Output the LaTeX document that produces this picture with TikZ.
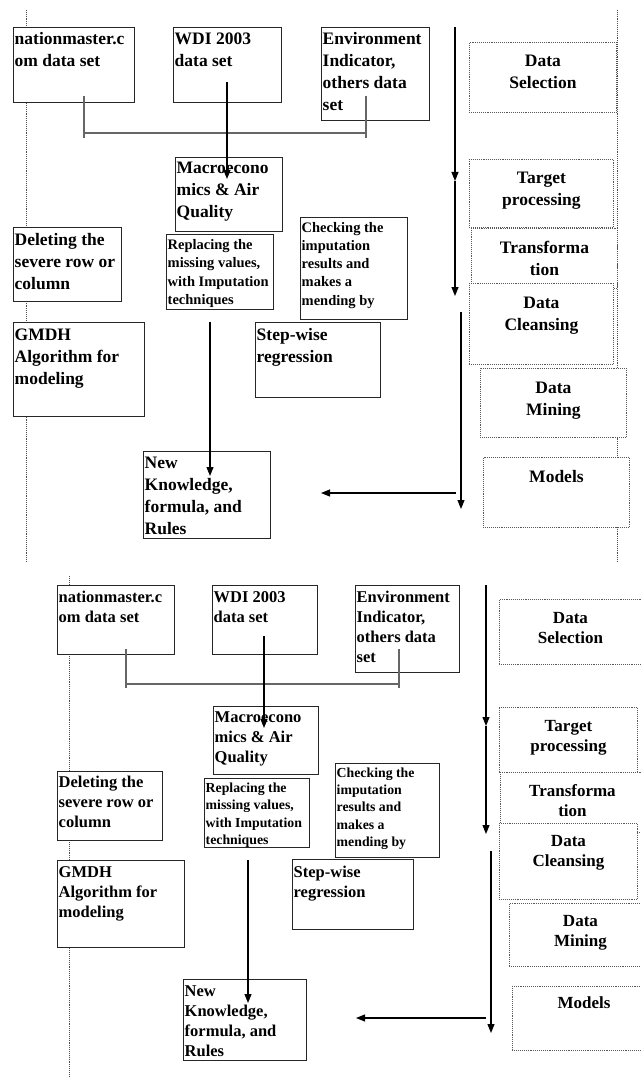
\documentclass[tikz,border=0pt]{standalone}
\usepackage{fontspec}
\setmainfont{Liberation Serif}
\usetikzlibrary{arrows.meta}
\tikzset{
  lbox/.style={draw=black!85, line width=1.3pt, fill=white, anchor=north west, inner sep=0pt},
  rbox/.style={draw=black!65, densely dotted, line width=0.9pt, fill=white, anchor=north west, inner sep=0pt},
  ltxt/.style={anchor=base west, inner sep=0pt, xshift=1.5pt, yshift=-18pt, font=\bfseries\fontsize{17.5}{22}\selectfont},
  stxt/.style={anchor=base west, inner sep=0pt, xshift=1.5pt, yshift=-15.5pt, font=\bfseries\fontsize{14.5}{18.3}\selectfont},
  ltxtb/.style={anchor=base west, inner sep=0pt, xshift=1.5pt, yshift=-17pt, font=\bfseries\fontsize{16.5}{20}\selectfont},
  stxtb/.style={anchor=base west, inner sep=0pt, xshift=1.5pt, yshift=-14.5pt, font=\bfseries\fontsize{13.8}{17.4}\selectfont},
  rtxt/.style={anchor=base, inner sep=0pt, yshift=-25pt, font=\bfseries\fontsize{17.5}{22}\selectfont},
  rtxtb/.style={anchor=base, inner sep=0pt, yshift=-24pt, font=\bfseries\fontsize{17}{20.5}\selectfont},
  pageline/.style={draw=black!70, densely dotted, line width=0.9pt},
  conn/.style={draw=black, line width=1.1pt, -{Triangle[length=9pt,width=7pt]}},
  brk/.style={draw=black!60, line width=1.2pt},
}
\newcommand\lbx[7]{%
  \node[lbox, minimum width=#4pt, minimum height=#5pt] (#1) at (#2,#3) {};
  \node[#6] (#1t) at (#1.north west) {\parbox[t]{300pt}{#7}};
}
\newcommand\rbx[7]{%
  \node[rbox, minimum width=#4pt, minimum height=#5pt] (#1) at (#2,#3) {};
  \node[#6] (#1t) at (#1.north) {\parbox[t]{#4pt}{\centering #7}};
}
\begin{document}
\begin{tikzpicture}[x=1pt,y=-1pt]
\fill[white] (0,0) rectangle (640,1078);
\useasboundingbox (0,0) rectangle (640,1078);

% ---------- page lines ----------
\coordinate (pl1a) at (26,10);  \coordinate (pl1b) at (26,562);
\coordinate (pr1a) at (617,10); \coordinate (pr1b) at (617,562);
\coordinate (pl2a) at (69,576); \coordinate (pl2b) at (69,1078);
\draw[pageline] (pl1a) -- (pl1b);
\draw[pageline] (pr1a) -- (pr1b);
\draw[pageline] (pl2a) -- (pl2b);

% ================= TOP COPY =================
\lbx{nm}{13}{27}{121}{75}{ltxt}{nationmaster.c\\om data\ set}
\lbx{wdi}{173}{27}{108}{75}{ltxt}{WDI 2003\\data set}
\lbx{env}{321}{27}{108}{93}{ltxt}{Environment\\Indicator,\\others data\\set}
\lbx{mac}{175}{157}{107}{74}{ltxt, yshift=1pt}{Macroecono\\mics \& Air\\Quality}
\lbx{del}{13}{227}{108}{74}{ltxt}{Deleting the\\severe row or\\column}
\lbx{rep}{166}{234}{107}{75}{stxt}{Replacing the\\missing values,\\with Imputation\\techniques}
\lbx{chk}{300}{217}{107}{102}{stxt, yshift=0.5pt}{Checking the\\imputation\\results and\\makes a\\mending by}
\lbx{stp}{255}{322}{125}{75}{ltxt}{Step-wise\\regression}
\lbx{gm}{13}{322}{131}{94}{ltxt}{GMDH\\Algorithm for\\modeling}
\lbx{new}{143}{451}{127}{87}{ltxt, yshift=1pt}{New\\Knowledge,\\formula, and\\Rules}

\rbx{sel}{469}{42}{147}{70}{rtxt}{Data\\Selection}
\rbx{tgt}{469}{159}{144}{68}{rtxt, yshift=1pt}{Target\\processing}
\rbx{trn}{471}{228}{146}{60}{rtxt}{Transforma\\tion}
\rbx{cln}{469}{283}{144}{81}{rtxt}{Data\\Cleansing}
\rbx{min}{480}{368}{146}{69}{rtxt}{Data\\Mining}
\rbx{mod}{483}{457}{146}{70}{rtxt}{Models}

% connectors top
\coordinate (b1a) at (84,96);  \coordinate (b1b) at (84,138);
\coordinate (b1c) at (84,133); \coordinate (b1d) at (366,133);
\coordinate (b1e) at (366,96); \coordinate (b1f) at (366,138);
\draw[brk] (b1a) -- (b1b);
\draw[brk] (b1c) -- (b1d);
\draw[brk] (b1e) -- (b1f);
\coordinate (w1a) at (227,82);  \coordinate (w1b) at (227,179);
\draw[conn] (w1a) -- (w1b);
\coordinate (v1a) at (455,27); \coordinate (v1b) at (455,181); \coordinate (v1c) at (455,296);
\draw[conn] (v1a) -- (v1b);
\draw[conn] (v1b) -- (v1c);
\coordinate (v2a) at (461,312); \coordinate (v2b) at (461,509);
\draw[conn] (v2a) -- (v2b);
\coordinate (h1a) at (456,493); \coordinate (h1b) at (321,493);
\draw[conn] (h1a) -- (h1b);
\coordinate (r1a) at (210,322); \coordinate (r1b) at (210,476);
\draw[conn] (r1a) -- (r1b);

% ================= BOTTOM COPY =================
\lbx{nmB}{57}{585}{117}{69}{ltxtb}{nationmaster.c\\om data\ set}
\lbx{wdiB}{212}{585}{105}{69}{ltxtb}{WDI 2003\\data set}
\lbx{envB}{355}{585}{104}{87}{ltxtb}{Environment\\Indicator,\\others data\\set}
\lbx{macB}{213}{706}{105}{68}{ltxtb, yshift=1pt}{Macroecono\\mics \& Air\\Quality}
\lbx{delB}{57}{771}{105}{69}{ltxtb, yshift=1pt}{Deleting the\\severe row or\\column}
\lbx{repB}{204}{778}{105}{69}{stxtb}{Replacing the\\missing values,\\with Imputation\\techniques}
\lbx{chkB}{335}{763}{104}{94}{stxtb, yshift=0.5pt}{Checking the\\imputation\\results and\\makes a\\mending by}
\lbx{stpB}{292}{859}{121}{70}{ltxtb, yshift=-1pt}{Step-wise\\regression}
\lbx{gmB}{57}{860}{127}{87}{ltxtb}{GMDH\\Algorithm for\\modeling}
\lbx{newB}{183}{979}{123}{81}{ltxtb}{New\\Knowledge,\\formula, and\\Rules}

\rbx{selB}{499}{599}{142}{65}{rtxtb}{Data\\Selection}
\rbx{tgtB}{499}{707}{138}{65}{rtxtb}{Target\\processing}
\rbx{trnB}{500}{772}{144}{60}{rtxtb}{Transforma\\tion}
\rbx{clnB}{499}{823}{138}{76}{rtxtb, yshift=1pt}{Data\\Cleansing}
\rbx{minB}{509}{903}{142}{63}{rtxtb, yshift=1pt}{Data\\Mining}
\rbx{modB}{512}{986}{143}{64}{rtxtb, yshift=2pt}{Models}

% connectors bottom
\coordinate (b2a) at (126,649); \coordinate (b2b) at (126,688);
\coordinate (b2c) at (126,684); \coordinate (b2d) at (399,684);
\coordinate (b2e) at (399,649); \coordinate (b2f) at (399,688);
\draw[brk] (b2a) -- (b2b);
\draw[brk] (b2c) -- (b2d);
\draw[brk] (b2e) -- (b2f);
\coordinate (w2a) at (264,636); \coordinate (w2b) at (264,728);
\draw[conn] (w2a) -- (w2b);
\coordinate (v3a) at (486,585); \coordinate (v3b) at (486,726); \coordinate (v3c) at (486,834);
\draw[conn] (v3a) -- (v3b);
\draw[conn] (v3b) -- (v3c);
\coordinate (v4a) at (491,851); \coordinate (v4b) at (491,1033);
\draw[conn] (v4a) -- (v4b);
\coordinate (h2a) at (486,1018); \coordinate (h2b) at (356,1018);
\draw[conn] (h2a) -- (h2b);
\coordinate (r2a) at (248,860); \coordinate (r2b) at (248,1003);
\draw[conn] (r2a) -- (r2b);
\end{tikzpicture}
\end{document}
